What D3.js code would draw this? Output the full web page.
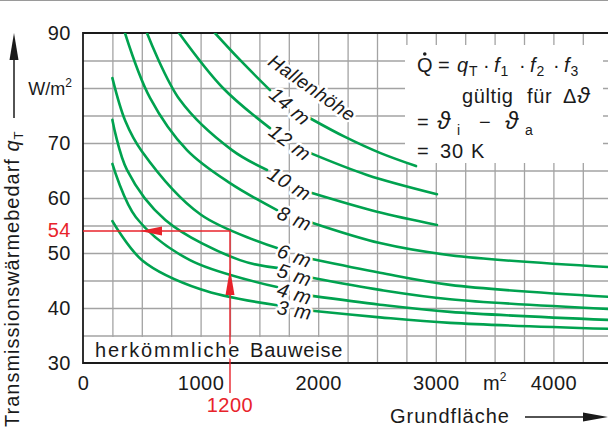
<!DOCTYPE html>
<html><head><meta charset="utf-8">
<script src="https://cdn.jsdelivr.net/npm/d3@7"></script>
<style>
html,body{margin:0;padding:0;background:#fff;}
svg{display:block;font-family:"Liberation Sans",Arial,sans-serif;}
text{white-space:pre;}
</style></head><body>
<svg id="c" width="608" height="432"></svg>
<script>
// ---- data ----
const yTicks = [30, 40, 50, 60, 70, 90];
const xTicks = [0, 1000, 2000, 3000, 4000];
const heightLabels = ["14 m", "12 m", "10 m", "8 m", "6 m", "5 m", "4 m", "3 m"];
const c14L = [[1122, 90], [1335, 85.1], [1590, 79.6]];
const c14R = [[1930, 74.5], [2228, 71.1], [2525, 68.2], [2832, 65.8]];
const c12L = [[816, 90], [1190, 80.0], [1590, 72.7]];
const c12R = [[1930, 68.2], [2415, 64.2], [3010, 60.7]];
const c10L = [[544, 90], [825, 77.8], [1267, 68.7], [1565, 65.1]];
const c10R = [[1947, 60.9], [2500, 57.5], [3010, 55.1]];
const c8L = [[357, 90], [570, 78.2], [884, 68.7], [1250, 62.7], [1650, 57.8]];
const c8R = [[1947, 55.5], [2525, 51.8], [3121, 49.6], [4500, 47.4]];
const c6L = [[250, 81.8], [360, 74.0], [500, 68.5], [1000, 57.0], [1650, 50.9]];
const c6R = [[1947, 48.9], [2525, 46.4], [3121, 44.2], [4500, 42.0]];
const c5L = [[250, 74.2], [374, 65.1], [700, 56.0], [1335, 48.7], [1650, 47.3]];
const c5R = [[1947, 45.5], [2525, 43.3], [3121, 41.6], [4500, 39.8]];
const c4L = [[250, 66.2], [450, 56.5], [910, 48.7], [1650, 43.8]];
const c4R = [[1947, 42.2], [2525, 40.6], [3121, 39.3], [4500, 37.8]];
const c3L = [[250, 55.8], [502, 48.7], [1000, 43.4], [1650, 40.5]];
const c3R = [[1947, 39.5], [2525, 38.3], [3121, 37.3], [4500, 36.2]];
const readQ = 54;
const readArea = 1250;
const readAreaLabel = "1200";

const leftSegs = [c14L, c12L, c10L, c8L, c6L, c5L, c4L, c3L];
const rightSegs = [c14R, c12R, c10R, c8R, c6R, c5R, c4R, c3R];

// ---- layout ----
const svg = d3.select("#c");
const L = 83, T = 33, B = 363, R = 608;
const x = d3.scaleLinear().domain([0, 4500]).range([L, L + 4500 * 0.1176]);
const y = d3.scaleLinear().domain([30, 90]).range([B, T]);
const GREEN = "#00a24f", RED = "#e8232b", GRID = "#a3a3a3", INK = "#1a1a1a";
const FS = 20;

svg.append("rect").attr("width", 608).attr("height", 432).attr("fill", "#fff");
svg.append("line").attr("x1", 0).attr("x2", 608).attr("y1", 0.5).attr("y2", 0.5)
  .attr("stroke", "#9a9a9a").attr("stroke-width", 1.2);

// grid via axes
const gx = svg.append("g").attr("transform", `translate(0,${B})`)
  .call(d3.axisBottom(x).tickValues(d3.range(250, 4501, 250)).tickSize(-(B - T)).tickFormat(""));
const gy = svg.append("g").attr("transform", `translate(${L},0)`)
  .call(d3.axisLeft(y).tickValues(d3.range(35, 90, 5)).tickSize(-(R - L)).tickFormat(""));
[gx, gy].forEach(g => {
  g.select(".domain").remove();
  g.selectAll("line").attr("stroke", GRID).attr("stroke-width", 1.3);
});

// white boxes
svg.append("rect").attr("x", 405).attr("y", 45).attr("width", 198).attr("height", 118).attr("fill", "#fff");
svg.append("rect").attr("x", L + 1).attr("y", 337).attr("width", 262).attr("height", B - 337 - 1).attr("fill", "#fff");

// frame
svg.append("path").attr("d", `M${R},${T}H${L}V${B}H${R}`).attr("fill", "none")
  .attr("stroke", INK).attr("stroke-width", 1.8);

// tick labels
const ay = svg.append("g").attr("transform", `translate(${L},0)`)
  .call(d3.axisLeft(y).tickValues(yTicks).tickSize(0).tickPadding(12).tickFormat(d3.format("d")));
const ax = svg.append("g").attr("transform", `translate(0,${B})`)
  .call(d3.axisBottom(x).tickValues(xTicks).tickSize(0).tickPadding(12.8).tickFormat(d3.format("d")));
[ax, ay].forEach(g => {
  g.select(".domain").remove();
  g.attr("font-family", null).attr("font-size", FS);
  g.selectAll("text").attr("fill", INK).attr("letter-spacing", 0.5);
});
svg.append("text").attr("x", 483).attr("y", 390).attr("font-size", FS).attr("fill", INK)
  .text("m").append("tspan").attr("font-size", 12).attr("dy", -9).text("2");
svg.append("text").attr("x", 72).attr("y", 95).attr("text-anchor", "end").attr("font-size", 18).attr("fill", INK)
  .html('W/m<tspan font-size="12" dy="-8">2</tspan>');

// axis titles
const yt = svg.append("text").attr("transform", "translate(18.5,427) rotate(-90)")
  .attr("font-size", FS).attr("fill", INK).attr("letter-spacing", 1);
yt.append("tspan").text("Transmissionswärmebedarf ");
yt.append("tspan").attr("font-style", "italic").text("q");
yt.append("tspan").attr("font-size", 13).attr("dy", 4).text("T");
svg.append("line").attr("x1", 14).attr("x2", 14).attr("y1", 118).attr("y2", 55).attr("stroke", INK).attr("stroke-width", 1.5);
svg.append("path").attr("d", "M14,33L9.5,60L18.5,60Z").attr("fill", INK);

svg.append("text").attr("x", 390).attr("y", 423).attr("font-size", FS).attr("fill", INK)
  .attr("letter-spacing", 1).text("Grundfläche");
svg.append("line").attr("x1", 525).attr("x2", 590).attr("y1", 417).attr("y2", 417).attr("stroke", INK).attr("stroke-width", 1.5);
svg.append("path").attr("d", "M608,417L583,412.5L583,421.5Z").attr("fill", INK);

// curves
svg.append("clipPath").attr("id", "pc").append("rect")
  .attr("x", L).attr("y", T).attr("width", R - L).attr("height", B - T);
const line = d3.line().x(d => x(d[0])).y(d => y(d[1])).curve(d3.curveCatmullRom.alpha(0.5));
const cg = svg.append("g").attr("clip-path", "url(#pc)");
leftSegs.concat(rightSegs).forEach(seg => {
  cg.append("path").attr("d", line(seg)).attr("fill", "none")
    .attr("stroke", GREEN).attr("stroke-width", 2.6).attr("stroke-linecap", "round");
});

// red reading lines
const ry = y(readQ), rx = x(readArea);
svg.append("line").attr("x1", x(0)).attr("x2", rx).attr("y1", ry).attr("y2", ry).attr("stroke", RED).attr("stroke-width", 1.4);
svg.append("line").attr("x1", rx).attr("x2", rx).attr("y1", ry).attr("y2", B + 30).attr("stroke", RED).attr("stroke-width", 1.4);
svg.append("path").attr("d", `M${rx - 90},${ry}L${rx - 68},${ry - 4.5}L${rx - 68},${ry + 4.5}Z`).attr("fill", RED);
svg.append("path").attr("d", `M${rx},${ry + 38}L${rx - 4.5},${ry + 64}L${rx + 4.5},${ry + 64}Z`).attr("fill", RED);
svg.append("text").attr("x", L - 12).attr("y", ry).attr("dy", "0.32em").attr("text-anchor", "end")
  .attr("font-size", FS).attr("fill", RED).attr("letter-spacing", 0.5).text(readQ);
svg.append("text").attr("x", rx).attr("y", 412).attr("text-anchor", "middle")
  .attr("font-size", FS).attr("fill", RED).attr("letter-spacing", 0.5).text(readAreaLabel);

// curve labels
function halo(sel) {
  return sel.attr("stroke", "#fff").attr("stroke-width", 5).attr("paint-order", "stroke").attr("stroke-linejoin", "round");
}
heightLabels.forEach((lab, i) => {
  const a = leftSegs[i][leftSegs[i].length - 1], b = rightSegs[i][0];
  const p1 = [x(a[0]), y(a[1])], p2 = [x(b[0]), y(b[1])];
  const cx = (p1[0] + p2[0]) / 2, cy = (p1[1] + p2[1]) / 2 + 2;
  const ang = Math.atan2(p2[1] - p1[1], p2[0] - p1[0]) * 180 / Math.PI * 1.15;
  halo(svg.append("text").attr("transform", `translate(${cx},${cy}) rotate(${ang})`)
    .attr("text-anchor", "middle").attr("dominant-baseline", "central")
    .attr("font-size", FS).attr("font-style", "italic").attr("fill", INK).attr("letter-spacing", 0.5).text(lab));
});
halo(svg.append("text").attr("transform", "translate(312,88) rotate(35)")
  .attr("text-anchor", "middle").attr("dominant-baseline", "central")
  .attr("font-size", 19).attr("font-style", "italic").attr("fill", INK).attr("letter-spacing", 0.5).text("Hallenhöhe"));

// conventional construction label
const hb = halo(svg.append("text").attr("y", 357).attr("font-size", FS).attr("fill", INK));
hb.append("tspan").attr("x", 95).attr("letter-spacing", 1.8).text("herkömmliche");
hb.append("tspan").attr("x", 250).attr("letter-spacing", 0.8).text("Bauweise");

// formula legend
const lg = svg.append("g").attr("font-size", FS).attr("fill", INK);
const qt = lg.append("text").attr("x", 417).attr("y", 72).text("Q");
const qb = qt.node().getBBox();
lg.append("circle").attr("cx", qb.x + qb.width / 2).attr("cy", 54).attr("r", 1.8).attr("fill", INK);
const l1 = lg.append("text").attr("y", 72);
l1.append("tspan").attr("x", 438).text("=");
l1.append("tspan").attr("x", 457).attr("font-style", "italic").text("q");
l1.append("tspan").attr("x", 469).attr("font-size", 14).attr("dy", 4).text("T");
[["1", 483, 494], ["2", 519, 530], ["3", 553, 564]].forEach(([s, dx, fx]) => {
  l1.append("tspan").attr("x", dx).attr("dy", -4).text("·");
  l1.append("tspan").attr("x", fx).attr("font-style", "italic").text("f");
  l1.append("tspan").attr("x", fx + 6.5).attr("font-size", 14).attr("dy", 4).text(s);
});
const l2 = lg.append("text").attr("y", 103).attr("letter-spacing", 0.6);
l2.append("tspan").attr("x", 462).text("gültig");
l2.append("tspan").attr("x", 527).text("für");
l2.append("tspan").attr("x", 563).text("Δ");
l2.append("tspan").attr("font-style", "italic").attr("font-size", 23).text("ϑ");
const l3 = lg.append("text").attr("y", 129);
l3.append("tspan").attr("x", 417).text("=");
l3.append("tspan").attr("x", 437).attr("font-style", "italic").attr("font-size", 24).text("ϑ");
l3.append("tspan").attr("x", 457).attr("font-size", 14).attr("dy", 6).text("i");
l3.append("tspan").attr("x", 479).attr("dy", -6).text("−");
l3.append("tspan").attr("x", 505).attr("font-style", "italic").attr("font-size", 24).text("ϑ");
l3.append("tspan").attr("x", 525).attr("font-size", 14).attr("dy", 6).text("a");
const l4 = lg.append("text").attr("y", 158).attr("letter-spacing", 0.8);
l4.append("tspan").attr("x", 417).text("=");
l4.append("tspan").attr("x", 440).text("30");
l4.append("tspan").attr("x", 471).text("K");
</script></body></html>
